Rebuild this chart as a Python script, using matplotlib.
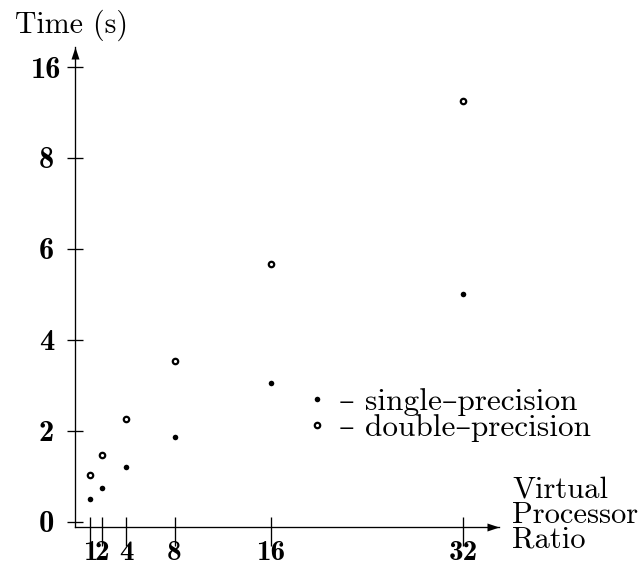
import numpy as np
import matplotlib.pyplot as plt

# virtual processor ratio and run time (s)
ratio = [1, 2, 4, 8, 16, 32]
single_time = [0.50, 0.75, 1.20, 1.87, 3.05, 5.00]
double_time = [1.02, 1.47, 2.26, 3.53, 5.67, 9.25]

x_ticks = [1, 2, 4, 8, 16, 32]
x_labels = ['1', '2', '4', '8', '16', '32']
y_ticks = [0, 2, 4, 6, 8, 10]
y_labels = ['0', '2', '4', '6', '8', '16']  # top tick is marked 16 in the original

RM = ['cmr10', 'DejaVu Serif']
BF = 'cmb10'

fig = plt.figure(figsize=(6.41, 5.67), dpi=100)
ax = fig.add_axes([0.117, 0.0697, 0.6615, 0.8474])

ax.plot(ratio, single_time, 'o', ms=4.0, color='black', mew=0,
        label='\u2013 single\u2013precision')
ax.plot(ratio, double_time, 'o', ms=3.9, mfc='white', mec='black', mew=1.6,
        label='\u2013 double\u2013precision')

ax.set_xlim(-0.27, 34.97)
ax.set_ylim(-0.128, 10.44)

for s in ['top', 'right']:
    ax.spines[s].set_visible(False)
for s in ['left', 'bottom']:
    ax.spines[s].set_linewidth(0.95)

# arrow heads at the ends of the axes
head_right = [(0, 0), (-12, 4), (-12, -4), (0, 0)]
head_up = [(0, 0), (-4, -12), (4, -12), (0, 0)]
ax.plot(1, 0, marker=head_right, ms=17.3, color='black', mew=0,
        transform=ax.transAxes, clip_on=False)
ax.plot(0, 1, marker=head_up, ms=17.3, color='black', mew=0,
        transform=ax.transAxes, clip_on=False)

# x ticks stick out more below the axis than above it
ax.set_xticks(x_ticks, x_labels, fontfamily=BF, fontsize=21)
ax.set_xticks(x_ticks, minor=True)
ax.xaxis.remove_overlapping_locs = False
ax.tick_params(axis='x', which='major', direction='out', length=13.7, width=0.95, pad=-4.7)
ax.tick_params(axis='x', which='minor', direction='in', length=7.2, width=0.95)

ax.set_yticks(y_ticks, y_labels, fontfamily=BF, fontsize=22)
ax.tick_params(axis='y', direction='inout', length=11.5, width=0.95, pad=14.8)
plt.setp(ax.get_yticklabels(), ha='center')

fig.text(15/641, 1-33/567, 'Time (s)', family=RM, fontsize=21.5, va='baseline')
fig.text(512/641, 1-497/567, 'Virtual', family=RM, fontsize=22, va='baseline')
fig.text(512/641, 1-523/567, 'Processor', family=RM, fontsize=22, va='baseline')
fig.text(512/641, 1-548/567, 'Ratio', family=RM, fontsize=22, va='baseline')

ax.legend(loc='upper left', bbox_to_anchor=(311/641, 1-388/567),
          bbox_transform=fig.transFigure, frameon=False,
          prop={'family': RM, 'size': 22.5}, handlelength=0.4,
          handletextpad=0.5, labelspacing=-0.05, borderpad=0, borderaxespad=0)

fig.savefig('out.png', dpi=100)
